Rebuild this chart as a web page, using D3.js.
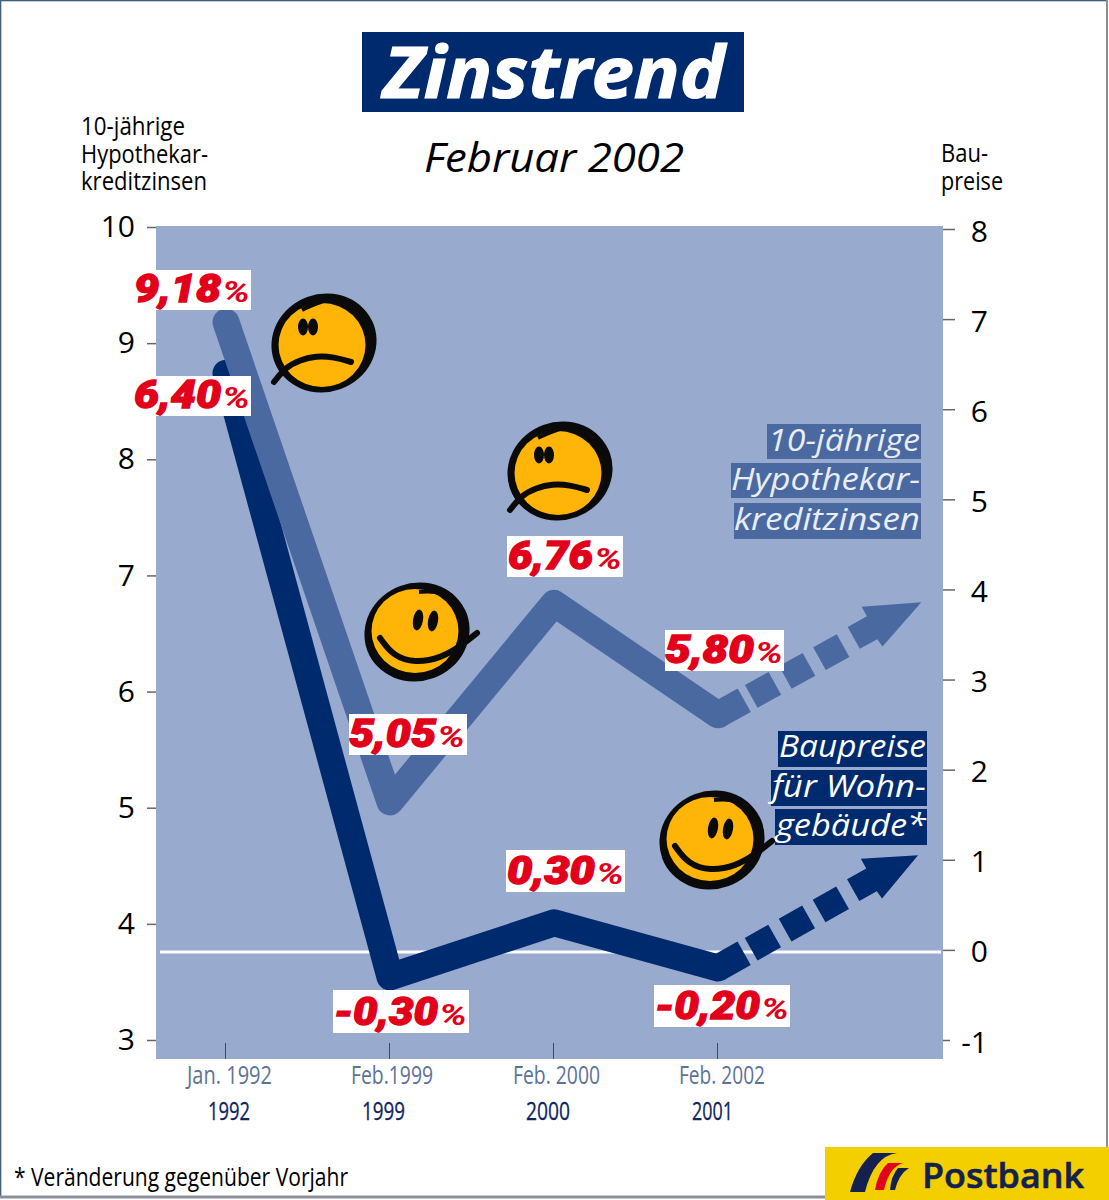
<!DOCTYPE html>
<html><head><meta charset="utf-8">
<script src="https://cdn.jsdelivr.net/npm/d3@7"></script>
<style>html,body{margin:0;padding:0;background:#fff}svg{display:block}text{font-family:"Open Sans",sans-serif}</style>
</head><body><div id="c"></div>
<script>
const xIndex=[0,1,2,3];
const xLabelsTop=["Jan. 1992","Feb.1999","Feb. 2000","Feb. 2002"];
const xLabelsBottom=["1992","1999","2000","2001"];
const zinsen=[9.18,5.05,6.76,5.80];
const baupreise=[6.40,-0.30,0.30,-0.20];
const zinsenLabels=["9,18","5,05","6,76","5,80"];
const baupreiseLabels=["6,40","-0,30","0,30","-0,20"];
const zinsenTrendEnd=[4.24,6.77];
const baupreiseTrendEnd=[4.22,1.05];
const leftTicks=[3,4,5,6,7,8,9,10];
const rightTicks=[-1,0,1,2,3,4,5,6,7,8];

const NAVY="#002a6e",MID="#4b69a1",BG="#99aacf",RED="#e2001a",GREY="#666";
const svg=d3.select("#c").append("svg").attr("width",1109).attr("height",1200);
const x=d3.scaleLinear().domain([0,3]).range([226,718]);
const yL=d3.scaleLinear().domain([3,10]).range([1040,227]);
const yR=d3.scaleLinear().domain([-1,8]).range([1040,229]);

function fit(sel,w){return sel.attr("textLength",w).attr("lengthAdjust","spacingAndGlyphs");}
function txt(s,px,py,size,w,o={}){
  const t=svg.append("text").attr("x",px).attr("y",py).attr("font-size",size).text(s)
    .attr("fill",o.fill||"#000").attr("font-style",o.italic?"italic":"normal").attr("font-weight",o.weight||400)
    .attr("text-anchor",o.anchor||"start");
  if(o.stroke)t.attr("stroke",o.fill||"#000").attr("stroke-width",o.stroke);
  if(w)fit(t,w);return t;
}
// frame
svg.append("rect").attr("x",.5).attr("y",.5).attr("width",1106.5).attr("height",1196.5).attr("fill","#fff").attr("stroke","#3f5f7d").attr("stroke-width",1.6);
svg.append("line").attr("x1",1107).attr("x2",1107).attr("y1",0).attr("y2",1197).attr("stroke","#8a8f9a").attr("stroke-width",2);
svg.append("line").attr("x1",0).attr("x2",1109).attr("y1",1197).attr("y2",1197).attr("stroke","#8a8f9a").attr("stroke-width",3);

// title
svg.append("rect").attr("x",362).attr("y",32).attr("width",382).attr("height",80).attr("fill",NAVY);
txt("Zinstrend",383,98,71,342,{fill:"#fff",italic:true,weight:700,stroke:1.2});
txt("Februar 2002",424,172,41,260,{italic:true});

// axis titles
[["10-jährige",135,104],["Hypothekar-",163,127],["kreditzinsen",190,126]].forEach(d=>txt(d[0],81,d[1],26,d[2]));
[["Bau-",162,47],["preise",190,62]].forEach(d=>txt(d[0],941,d[1],26,d[2]));

// plot area
svg.append("rect").attr("x",156).attr("y",226).attr("width",787).attr("height",833).attr("fill",BG);

// axes
const axL=svg.append("g").attr("transform","translate(156,0)").call(d3.axisLeft(yL).tickValues(leftTicks).tickFormat(d3.format("d")).tickSize(9).tickPadding(12));
const axR=svg.append("g").attr("transform","translate(943,0)").call(d3.axisRight(yR).tickValues(rightTicks).tickFormat(d=>String(d)).tickSize(12).tickPadding(0));
[axL,axR].forEach(a=>{a.select(".domain").remove();a.selectAll("line").attr("stroke",GREY).attr("stroke-width",1.5);
  a.selectAll("text").attr("font-size",30).attr("fill","#000").style("font-family",'"Open Sans",sans-serif');});
axR.selectAll("text").attr("text-anchor","end").attr("x",45).attr("dy","0.4em");
axR.selectAll(".tick").filter(d=>d===-1).select("line").attr("x2",7);
const axB=svg.append("g").attr("transform","translate(0,1059)").call(d3.axisTop(x).tickValues(xIndex).tickFormat("").tickSize(16));
axB.select(".domain").remove();axB.selectAll("line").attr("stroke","#3a4a6a").attr("stroke-width",1).attr("transform","translate(-1,0)");

// zero line
svg.append("line").attr("x1",160).attr("x2",941).attr("y1",yR(0)+2).attr("y2",yR(0)+2).attr("stroke","#fff").attr("stroke-width",3);

// series
function series(vals,y,end,color){
  const line=d3.line().x((d,i)=>x(i)).y(d=>y(d));
  svg.append("path").attr("d",line(vals)).attr("fill","none").attr("stroke",color).attr("stroke-width",27).attr("stroke-linejoin","round").attr("stroke-linecap","round");
  const x0=x(3),y0=y(vals[3]),x1=x(end[0]),y1=y(end[1]);
  const L=Math.hypot(x1-x0,y1-y0),ux=(x1-x0)/L,uy=(y1-y0)/L,nx=-uy,ny=ux;
  const P=(a,b)=>[x0+ux*a+nx*b,y0+uy*a+ny*b];
  const ln=d3.line();
  const poly=(pts)=>svg.append("path").attr("d",ln(pts)+"Z").attr("fill",color);
  poly([P(0,-13.5),P(30,-13.5),P(30,13.5),P(0,13.5)]);
  [[38,65],[77,104],[116,143]].forEach(s=>poly([P(s[0],-13),P(s[1],-13),P(s[1],13),P(s[0],13)]));
  poly([P(156,-14),P(178,-14),P(178,-25),P(L,0),P(177,20),P(176,11),P(156,11)]);
}
series(baupreise,yR,baupreiseTrendEnd,NAVY);
series(zinsen,yL,zinsenTrendEnd,MID);

// value labels
function valueLabel(s,bx,by,bw,bh,tx,tw){
  svg.append("rect").attr("x",bx).attr("y",by).attr("width",bw).attr("height",bh).attr("fill","#fff");
  const base=by+bh-8,pw=28;
  fit(svg.append("text").attr("x",tx).attr("y",base).attr("fill",RED).attr("stroke",RED).attr("stroke-width",1.3)
    .attr("font-style","italic").attr("font-weight",900).style("font-family","Roboto,sans-serif").attr("font-size",38).text(s),tw-pw-1);
  fit(svg.append("text").attr("x",tx+tw-pw).attr("y",base).attr("fill",RED)
    .attr("font-style","italic").attr("font-weight",700).style("font-family","Roboto,sans-serif").attr("font-size",29).text("%"),pw);
}
const zBoxes=[[156,270,95,40,134,116],[349,714,118,41,349,116],[507,536,116,41,508,114],[665,630,119,41,665,118]];
const bBoxes=[[156,376,95,40,134,116],[333,990,136,43,334,133],[506,850,119,42,507,117],[654,985,136,42,655,134]];
zBoxes.forEach((b,i)=>valueLabel(zinsenLabels[i],...b));
bBoxes.forEach((b,i)=>valueLabel(baupreiseLabels[i],...b));

// series legends
function legendLine(s,bx,by,bw,bh,base,color,tw,tcolor){
  svg.append("rect").attr("x",bx).attr("y",by).attr("width",bw).attr("height",bh).attr("fill",color);
  fit(svg.append("text").attr("x",bx+bw-tw-1).attr("y",base).attr("fill",tcolor).attr("font-size",31).attr("font-style","italic").text(s),tw);
}
[["10-jährige",767,424,154,35,451,152],["Hypothekar-",731,463,190,35,490,189],["kreditzinsen",734,503,187,36,530,186]]
  .forEach(d=>legendLine(d[0],d[1],d[2],d[3],d[4],d[5],MID,d[6],"#e9edf6"));
[["Baupreise",778,731,149,36,757,147],["für Wohn-",771,770,156,36,797,154],["gebäude*",775,809,152,36,836,150]]
  .forEach(d=>legendLine(d[0],d[1],d[2],d[3],d[4],d[5],NAVY,d[6],"#fff"));

// x labels
[[187,85],[351,82],[513,87],[679,86]].forEach((d,i)=>txt(xLabelsTop[i],d[0],1084,25,d[1],{fill:"#5c7299"}));
[[208,42],[362,43],[526,44],[692,41]].forEach((d,i)=>txt(xLabelsBottom[i],d[0],1120,25,d[1],{fill:"#0f2560",stroke:.3}));
txt("* Veränderung gegenüber Vorjahr",14,1186,26,334);

// faces
function face(cx,cy,happy){
  const g=svg.append("g").attr("transform",`translate(${cx},${cy})`);
  const BK="#0a0a0a",Y="#ffb508";
  g.append("ellipse").attr("rx",53).attr("ry",49).attr("fill",BK).attr("transform","rotate(-20)");
  g.append("ellipse").attr("cx",-2).attr("cy",happy?-1:2).attr("rx",43.5).attr("ry",42).attr("fill",Y);
  const eye=(ex,ey,ry)=>g.append("ellipse").attr("cx",ex).attr("cy",ey).attr("rx",5).attr("ry",ry).attr("fill",BK).attr("transform",`rotate(${happy?10:0} ${ex} ${ey})`);
  const cv=d3.line().curve(d3.curveBasis);
  if(happy){
    eye(1,-12,10.5);eye(16,-11,10.5);
    g.append("path").attr("d",cv([[-37,6],[-24,24],[-2,31],[24,26],[44,14],[60,1]])).attr("fill","none").attr("stroke",BK).attr("stroke-width",6).attr("stroke-linecap","round");
    g.append("path").attr("d",cv([[2,-40],[18,-41],[32,-36]])).attr("fill","none").attr("stroke",BK).attr("stroke-width",4);
  } else {
    eye(-21,-16,8.5);eye(-11,-16,8.5);
    g.append("path").attr("d",cv([[-50,39],[-38,24],[-24,17],[-8,13],[10,14],[27,19]])).attr("fill","none").attr("stroke",BK).attr("stroke-width",6).attr("stroke-linecap","round");
    g.append("path").attr("d",cv([[-22,-33],[-8,-40],[8,-44]])).attr("fill","none").attr("stroke",BK).attr("stroke-width",4);
  }
}
face(324,343,false);face(560,471,false);face(417,632,true);face(712,840,true);

// logo
svg.append("rect").attr("x",825).attr("y",1147).attr("width",284).attr("height",53).attr("fill","#f3cf00");
svg.append("path").attr("d","M873,1153 L897,1153 Q874,1156 865,1192 L850,1192 Q857,1166 873,1153Z").attr("fill","#14204f");
svg.append("path").attr("d","M888,1163 L903,1163 Q889,1167 884,1190 L875,1190 Q878,1172 888,1163Z").attr("fill",RED);
svg.append("path").attr("d","M898,1168 L909,1168 Q899,1174 895,1190 L890,1190 Q891,1176 898,1168Z").attr("fill","#14204f");
txt("Postbank",922,1188,35,162,{fill:"#14204f",weight:600,stroke:.6});
</script></body></html>
